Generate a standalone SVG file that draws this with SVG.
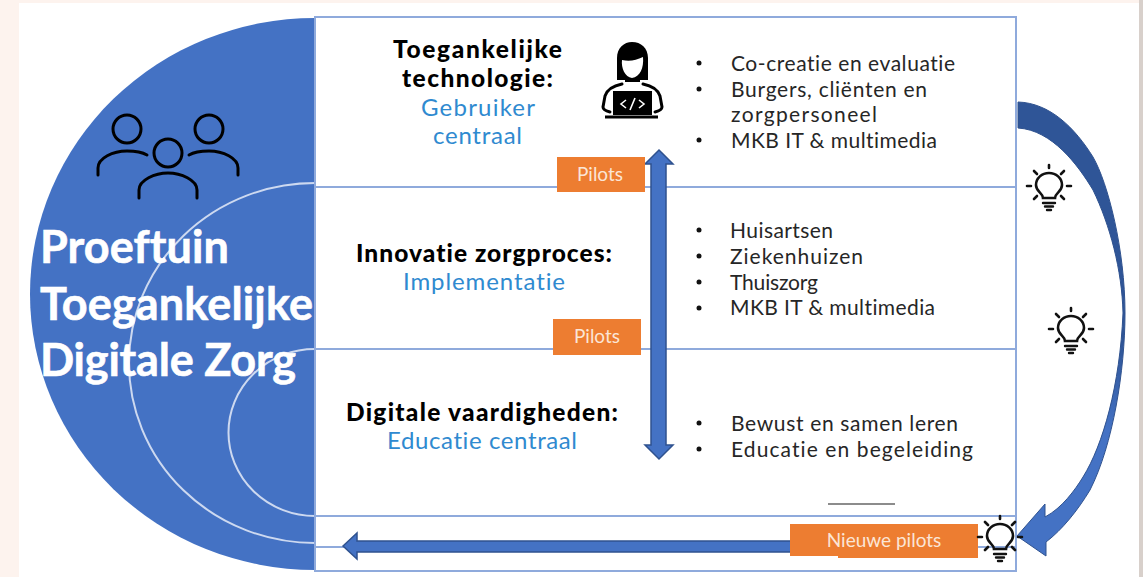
<svg xmlns="http://www.w3.org/2000/svg" width="1143" height="577" viewBox="0 0 1143 577">
<style>
text{font-variant-ligatures:none}
.b{font-family:"Lato","Liberation Sans",sans-serif;font-size:21px;fill:#262626}
.h{font-family:"Lato","Liberation Sans",sans-serif;font-size:24.500px;font-weight:900;fill:#000}
.s{font-family:"Lato","Liberation Sans",sans-serif;font-size:24px;fill:#2f8ad0}
.t{font-family:"Lato","Liberation Sans",sans-serif;font-size:45px;font-weight:700;fill:#fff;stroke:#fff;stroke-width:.6px}
.o{fill:#ed7d31}
.l{font-family:"Lato","Liberation Sans",sans-serif;font-size:19px;fill:#fbe5d6;text-anchor:middle}
.g{fill:none;stroke:#8faadc;stroke-width:2}
.c{fill:none;stroke:#cdd9f0;stroke-width:2}
.i{fill:none;stroke:#000;stroke-width:3;stroke-linecap:round}
.ar{fill:#4472c4;stroke:#2f528f;stroke-width:1.500}
.dot{fill:#111}
</style>
<defs>
<linearGradient id="curve" gradientUnits="userSpaceOnUse" x1="0" y1="100" x2="0" y2="540">
<stop offset="0" stop-color="#2f5597"/><stop offset="0.55" stop-color="#2f5597"/><stop offset="0.75" stop-color="#4472c4"/><stop offset="1" stop-color="#4472c4"/>
</linearGradient>
<g id="bulb" fill="none" stroke="#111" stroke-linecap="round">
<path stroke-width="2.600" d="M-6,12 C-6,7 -13,6 -13,-1 C-13,-8 -7,-13 0,-13 C7,-13 13,-8 13,-1 C13,6 6,7 6,12 Z"/>
<path stroke-width="2.400" d="M-6,17H6M-4,20.500H4M-2,24H2"/>
<path stroke-width="2.600" d="M0,-21V-18M-22,0H-18M18,0H22M-15,-15L-12,-12M15,-15L12,-12M-15,13L-12,10M15,13L12,10"/>
</g>
</defs>
<rect width="1143" height="577" fill="#fff"/>
<rect width="19" height="577" fill="#fdf3ee"/>
<rect width="1143" height="3" fill="#fdf3ee"/>
<rect x="1139" width="4" height="577" fill="#d8d0cb"/>

<g id="halfcircle">
<path d="M315,18 A285,276 0 0 0 315,570 Z" fill="#4472c4"/>
<path class="c" d="M315,183 A186,180 0 0 0 315,543"/>
<path class="c" d="M315,349 A86,83 0 0 0 315,516"/>
</g>
<g id="panel">
<rect class="g" x="315" y="17" width="701" height="554"/>
<path class="g" d="M315,187H1016M315,349H1016M315,516H1016M315,547H345M975,547H1016"/>
<path d="M828,504H895" stroke="#666" stroke-width="1.500"/>
</g>
<g id="title">
<text class="t" x="40" y="263" textLength="189">Proeftuin</text>
<text class="t" x="40" y="320" textLength="273">Toegankelijke</text>
<text class="t" x="40" y="376" textLength="256">Digitale Zorg</text>
</g>
<g id="people" class="i">
<circle cx="127" cy="129" r="14"/><circle cx="168" cy="153" r="14"/><circle cx="209" cy="129" r="14"/>
<path d="M98,175V168C98,158 113,151 127,151C135,151 142,152 147,155"/>
<path d="M238,175V168C238,158 223,151 209,151C201,151 194,152 189,155"/>
<path d="M139,198V190C139,180 155,173 168,173C181,173 197,180 197,190V198"/>
</g>
<g id="row1">
<text class="h" x="393" y="58" textLength="169">Toegankelijke</text>
<text class="h" x="402" y="87" textLength="151">technologie:</text>
<text class="s" x="421" y="116" textLength="114">Gebruiker</text>
<text class="s" x="433" y="144" textLength="89">centraal</text>
<circle class="dot" cx="699" cy="63" r="2.500"/><circle class="dot" cx="699" cy="89" r="2.500"/><circle class="dot" cx="699" cy="140" r="2.500"/>
<text class="b" x="731" y="71" textLength="224">Co-creatie en evaluatie</text>
<text class="b" x="731" y="97" textLength="196">Burgers, cliënten en</text>
<text class="b" x="731" y="122" textLength="146">zorgpersoneel</text>
<text class="b" x="731" y="148" textLength="206">MKB IT &amp; multimedia</text>
</g>
<g id="developer">
<path d="M617,80V58C617,48 624,42 632,42C641,42 648,48 648,58V80H640V82H625V80Z" fill="#000"/>
<path d="M622,60C630,62 636,60 643,57C644,68 640,77 632,78C625,77 621,68 622,60Z" fill="#fff"/>
<path d="M622,84C612,86 607,90 605,96L603,107C603,110 606,111 610,112M643,84C653,86 658,90 660,96L662,107C662,110 659,111 655,112" fill="none" stroke="#000" stroke-width="3" stroke-linecap="round"/>
<rect x="613" y="91" width="39" height="24" fill="#000"/>
<path d="M605,117H658" stroke="#000" stroke-width="3"/>
<path d="M626,100L621,104L626,108M639,100L644,104L639,108M635,98L630,110" fill="none" stroke="#fff" stroke-width="1.600"/>
</g>
<g id="row2">
<text class="h" x="356" y="262" textLength="256">Innovatie zorgproces:</text>
<text class="s" x="403" y="290" textLength="162">Implementatie</text>
<circle class="dot" cx="699" cy="230" r="2.500"/><circle class="dot" cx="699" cy="256" r="2.500"/><circle class="dot" cx="699" cy="282" r="2.500"/><circle class="dot" cx="699" cy="308" r="2.500"/>
<text class="b" x="730" y="238" textLength="103">Huisartsen</text>
<text class="b" x="730" y="264" textLength="133">Ziekenhuizen</text>
<text class="b" x="730" y="290" textLength="88">Thuiszorg</text>
<text class="b" x="730" y="315" textLength="205">MKB IT &amp; multimedia</text>
</g>
<g id="row3">
<text class="h" x="346" y="421" textLength="272">Digitale vaardigheden:</text>
<text class="s" x="387" y="449" textLength="190">Educatie centraal</text>
<circle class="dot" cx="699" cy="423" r="2.500"/><circle class="dot" cx="699" cy="449" r="2.500"/>
<text class="b" x="731" y="431" textLength="227">Bewust en samen leren</text>
<text class="b" x="731" y="457" textLength="242">Educatie en begeleiding</text>
</g>
<g id="connectors">
<path class="ar" d="M659,150L673,164H666V445H673L659,459L645,445H651V164H645Z"/>
<path class="ar" d="M343,546L357,533V541H795V552H357V559Z"/>
<path fill="url(#curve)" stroke="#2f528f" stroke-width="1" d="M1018,102C1050,103 1075,128 1093,157C1108,183 1125,250 1125,313C1125,370 1113,445 1090,490C1078,510 1062,530 1046,542L1046,556L1017,536L1045,504L1045,517C1062,508 1075,490 1083,477C1103,445 1120,385 1123,313C1122,270 1110,225 1093,190C1078,165 1052,130 1018,128Z"/>
</g>
<g id="pilots1"><rect class="o" x="557" y="157" width="88" height="35"/><text class="l" x="600" y="181">Pilots</text></g>
<g id="pilots2"><rect class="o" x="553" y="319" width="88" height="36"/><text class="l" x="597" y="343">Pilots</text></g>
<g id="pilots3"><rect class="o" x="790" y="524" width="188" height="32"/><rect class="o" x="838" y="550" width="140" height="8"/><text class="l" x="884" y="547">Nieuwe pilots</text></g>
<g id="bulb1"><use href="#bulb" x="1049" y="186"/></g>
<g id="bulb2"><use href="#bulb" x="1071" y="329"/></g>
<g id="bulb3"><use href="#bulb" x="1000" y="537"/></g>
</svg>
